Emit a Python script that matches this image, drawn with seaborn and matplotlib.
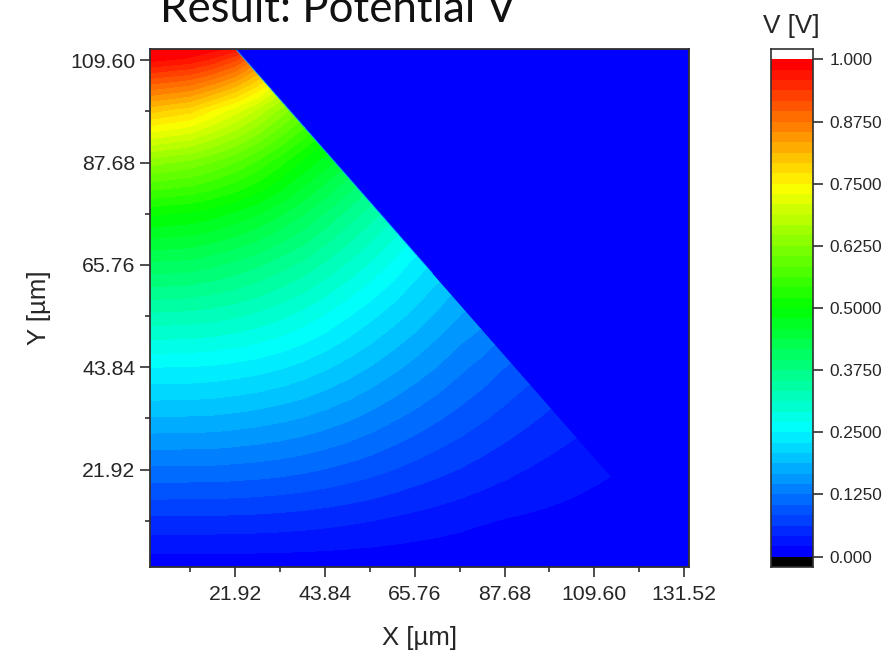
import numpy as np
import pandas as pd
import seaborn as sns
import matplotlib.pyplot as plt
from matplotlib.patches import Polygon

# values, V at each y for one x column
x_um = [0, 11, 16.5, 22, 27.5, 33, 38.5, 44, 49.5, 55, 60.5, 66, 71.5, 77, 82.5, 88, 93.5, 99, 104.5, 110, 121, 133]
y_um = [0, 11, 22, 33, 44, 55, 66, 77, 88, 99, 110, 113]
v_x0 = [.001, .0565, .121, .186, .251, .329, .413, .507, .639, .804, .992, 1.0]
v_x11 = [.001, .056, .12, .185, .25, .326, .409, .499, .622, .781, .977, 1.0]
v_x16 = [.001, .056, .12, .184, .248, .322, .401, .49, .606, .75, .958, 1.0]
v_x22 = [.001, .0554, .118, .181, .244, .316, .391, .477, .586, .72, .926, .989]
v_x27 = [.001, .0545, .116, .177, .239, .308, .379, .462, .56, .684, .869, .944]
v_x33 = [.001, .053, .113, .172, .232, .297, .364, .442, .53, .641, .798, .86]
v_x38 = [.001, .051, .1087, .166, .223, .284, .349, .42, .497, .601, .726, .76]
v_x44 = [.001, .0484, .1035, .158, .212, .269, .33, .395, .469, .56, .67, .70]
v_x49 = [.001, .0454, .0975, .149, .2, .252, .31, .369, .44, .51, .58, .6]
v_x55 = [.001, .042, .091, .139, .187, .235, .289, .345, .408, .477, .54, .56]
v_x60 = [.001, .038, .0836, .128, .173, .218, .266, .32, .374, .43, .49, .5]
v_x66 = [.001, .034, .076, .1175, .159, .201, .242, .292, .34, .40, .46, .47]
v_x71 = [.001, .0303, .0687, .1065, .145, .183, .222, .26, .3, .35, .4, .41]
v_x77 = [.001, .0264, .0615, .096, .13, .166, .2, .233, .27, .31, .35, .36]
v_x82 = [.001, .0225, .0542, .0857, .117, .154, .19, .22, .25, .28, .32, .33]
v_x88 = [.001, .0195, .0473, .0757, .104, .136, .17, .2, .23, .26, .3, .31]
v_x93 = [.001, .0172, .041, .0665, .0926, .1186, .148, .178, .21, .24, .27, .28]
v_x99 = [.001, .0152, .035, .058, .0815, .105, .13, .16, .19, .22, .25, .26]
v_x104 = [.001, .0133, .0298, .0503, .0705, .095, .12, .147, .175, .205, .235, .245]
v_x110 = [.001, .0117, .025, .0433, .062, .085, .11, .135, .16, .19, .22, .23]
v_x121 = [.001, .009, .0178, .03, .048, .065, .085, .105, .125, .145, .165, .17]
v_x133 = [.001, .007, .012, .02, .033, .05, .065, .08, .095, .11, .125, .13]

# outline of the wedge that holds the field, outside it the plot is plain blue
wedge_x = [0, 134, 21, 0]
wedge_y = [0, 0, 113, 113]
# the thin light rim along the upper part of the slanted side
rim_x = [21, 70]
rim_y = [113, 64]

major_ticks = [21.92, 43.84, 65.76, 87.68, 109.60]
x_ticks = major_ticks + [131.52]
x_minor = [10.96, 32.88, 54.8, 76.72, 98.64, 120.56]
y_minor = [10.96, 32.88, 54.8, 76.72, 98.64]
bar_labels = ['1.000', '0.8750', '0.7500', '0.6250', '0.5000', '0.3750', '0.2500', '0.1250', '0.000']

sns.set_theme(style='ticks')
plt.rcParams['font.family'] = ['Liberation Sans', 'DejaVu Sans']
text_col = '#262626'
line_col = '#303030'

n_bands = 48
bands = sns.blend_palette(['#0000ff', '#00ffff', '#00ff00', '#ffff00', '#ff0000'], n_colors=n_bands)
levels = np.linspace(0, 1, n_bands + 1)

field = np.array([v_x0, v_x11, v_x16, v_x22, v_x27, v_x33, v_x38, v_x44, v_x49, v_x55, v_x60,
                  v_x66, v_x71, v_x77, v_x82, v_x88, v_x93, v_x99, v_x104, v_x110, v_x121, v_x133]).T

W, H = 889, 655
fig = plt.figure(figsize=(W / 100, H / 100), dpi=100)
ax = fig.add_axes([150 / W, 1 - 566.5 / H, 539 / W, 517.5 / H])
ax.set_facecolor('#0000ff')

cs = ax.contourf(x_um, y_um, field, levels=levels, colors=bands)
cs.set_clip_path(Polygon(list(zip(wedge_x, wedge_y)), transform=ax.transData))
ax.plot(rim_x, rim_y, color='#00d8ff', lw=0.9, alpha=0.55)

ax.set_xlim(1.1, 132.7)
ax.set_ylim(1.18, 112)
ax.set_xticks(x_ticks)
ax.set_xticklabels([f'{t:.2f}' for t in x_ticks])
ax.set_yticks(major_ticks)
ax.set_yticklabels([f'{t:.2f}' for t in major_ticks])
ax.set_xticks(x_minor, minor=True)
ax.set_yticks(y_minor, minor=True)
ax.tick_params(which='major', length=7.5, width=1.2, color=line_col, labelsize=15.3,
               labelcolor=text_col)
ax.tick_params(axis='x', which='major', pad=6)
ax.tick_params(axis='y', which='major', pad=3)
ax.tick_params(which='minor', length=3.8, width=1.2, color=line_col)
for s in ax.spines.values():
    s.set_visible(True)
    s.set_linewidth(1.3)
    s.set_color(line_col)

ax.set_xlabel('X [µm]', fontsize=18.5, color=text_col)
ax.set_ylabel('Y [µm]', fontsize=18.5, color=text_col)
ax.xaxis.set_label_coords(0.5, -0.115)
ax.yaxis.set_label_coords(-0.183, 0.5)

# colour bar, one heatmap cell per band plus white on top and black below
cax = fig.add_axes([771 / W, 1 - 567 / H, 42 / W, 518 / H])
cells = pd.DataFrame({'V': np.arange(n_bands + 1, -1, -1)})
bar_cols = ['#000000'] + list(bands) + ['#ffffff']
sns.heatmap(cells, ax=cax, cmap=bar_cols, cbar=False, xticklabels=False, yticklabels=False)
cax.set_ylabel('')
cax.yaxis.tick_right()
cax.set_yticks(np.arange(1, n_bands + 2, 6))
cax.set_yticklabels(bar_labels, rotation=0)
cax.tick_params(axis='y', length=7, width=1.2, color=line_col, labelsize=12.4,
                labelcolor=text_col, pad=5)
for s in cax.spines.values():
    s.set_visible(True)
    s.set_linewidth(1.2)
    s.set_color(line_col)

fig.text(791 / W, 1 - 33 / H, 'V [V]', fontsize=18.8, color=text_col, ha='center', va='baseline')
fig.text(160 / W, 1 - 22 / H, 'Result: Potential V', fontsize=31.5, color='#111111',
         family=['Lato', 'DejaVu Sans'], ha='left', va='baseline')

fig.savefig('out.png', dpi=100)
